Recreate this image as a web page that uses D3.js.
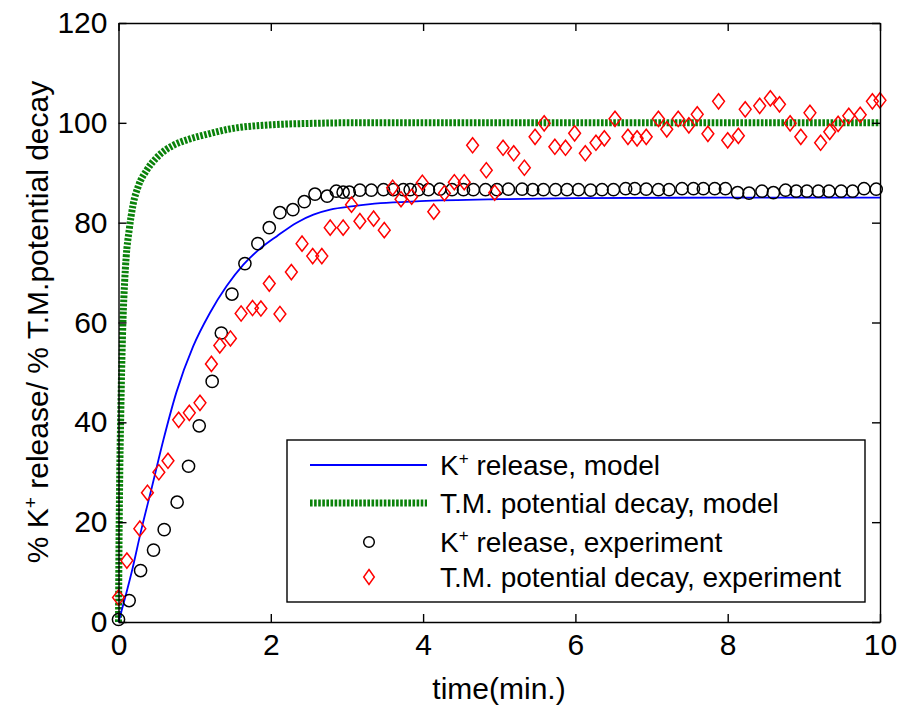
<!DOCTYPE html>
<html><head><meta charset="utf-8">
<script src="https://cdn.jsdelivr.net/npm/d3@7"></script>
<style>
html,body{margin:0;padding:0;background:#fff;}
text{font-family:"Liberation Sans",Arial,Helvetica,sans-serif;fill:#000;}
</style></head>
<body>
<svg id="chart" width="898" height="705"></svg>
<script>
// ---- data ----
const xTicks = [0, 2, 4, 6, 8, 10];
const yTicks = [0, 20, 40, 60, 80, 100, 120];

const kModelT = [0,0.17,0.30,0.44,0.59,0.76,0.98,1.20,1.42,1.64,1.86,2.08,2.34,2.56,2.78,3.09,3.44,3.96,5,6,8,10];
const kModelV = [0,9.8,18.5,27.1,36.5,46.0,55.2,61.9,67.3,71.6,74.8,77.3,80.0,81.6,82.6,83.3,83.9,84.3,84.7,84.9,85,85];

const tmModelT = [0,0.005,0.015,0.03,0.045,0.06,0.08,0.10,0.14,0.19,0.26,0.37,0.50,0.63,0.72,0.94,1.16,1.47,2.0,2.56,3.0,4,6,8,10];
const tmModelV = [0,12,28,42,53,61,68,73,78.5,83.5,87.3,90.5,93,94.7,95.5,96.8,97.7,98.8,99.6,99.9,100,100,100,100,100];

const kExpT = [0,0.14,0.29,0.46,0.60,0.77,0.92,1.06,1.23,1.35,1.49,1.66,1.83,1.98,2.12,2.29,2.44,2.58,2.74,2.86,2.95,3.03,3.17,3.32,3.48,3.61,3.74,3.83,3.94,4.07,4.22,4.38,4.53,4.66,4.82,4.97,5.12,5.30,5.44,5.58,5.74,5.89,6.04,6.20,6.35,6.50,6.66,6.78,6.93,7.09,7.23,7.40,7.55,7.68,7.83,7.97,8.13,8.28,8.45,8.60,8.76,8.90,9.04,9.19,9.33,9.49,9.64,9.79,9.95];
const kExpV = [0.5,4.3,10.3,14.4,18.5,24.0,31.2,39.3,48.2,57.9,65.7,71.8,75.8,79.0,82.0,82.6,84.2,85.7,85.3,86.3,86.1,86.1,86.5,86.5,86.6,86.6,86.6,86.6,86.6,86.6,86.7,86.6,86.6,86.6,86.6,86.6,86.7,86.7,86.6,86.6,86.6,86.6,86.6,86.5,86.6,86.6,86.8,86.8,86.7,86.6,86.6,86.8,86.8,86.8,86.8,86.8,86.0,85.9,86.3,86.0,86.5,86.3,86.3,86.3,86.3,86.3,86.3,86.8,86.7];

const tmExpT = [0,0.11,0.28,0.38,0.53,0.65,0.79,0.93,1.07,1.22,1.33,1.47,1.61,1.76,1.87,1.98,2.12,2.27,2.41,2.55,2.67,2.78,2.95,3.06,3.17,3.35,3.49,3.60,3.71,3.85,3.99,4.14,4.28,4.41,4.54,4.65,4.83,4.94,5.05,5.19,5.33,5.47,5.59,5.73,5.87,5.99,6.13,6.27,6.38,6.52,6.69,6.81,6.93,7.09,7.20,7.35,7.49,7.60,7.74,7.88,8.00,8.14,8.23,8.42,8.56,8.68,8.82,8.96,9.08,9.22,9.34,9.45,9.59,9.74,9.90,10.0];
const tmExpV = [4.9,12.3,18.7,25.9,30.0,32.3,40.5,41.9,43.9,51.7,55.4,56.8,61.8,62.9,62.8,67.8,61.7,70.1,75.8,73.3,73.3,79.0,79.0,83.6,80.3,80.8,78.5,87.0,84.7,85.2,88.0,82.2,85.9,88.1,88.1,95.5,90.5,86.0,95.0,93.9,91.0,97.2,99.9,95.2,95.0,97.9,93.9,96.0,96.9,100.8,97.2,96.9,97.2,100.8,98.7,100.8,99.5,101.7,97.8,104.3,96.5,97.4,102.7,103.4,104.9,103.7,99.9,97.2,102.0,96.0,98.2,99.8,101.4,101.6,104.3,104.5];

// ---- layout ----
const svg = d3.select("#chart");
svg.append("rect").attr("width",898).attr("height",705).attr("fill","#fff");

const x = d3.scaleLinear().domain([0,10]).range([118.5,880]);
const y = d3.scaleLinear().domain([0,120]).range([622,23]);

const tickFont = 30, labelFont = 30, legendFont = 28;

const zip = (a,b) => a.map((v,i)=>[v,b[i]]);
const line = d3.line().x(d=>x(d[0])).y(d=>y(d[1])).curve(d3.curveMonotoneX);

// model curves
svg.append("path").datum(zip(tmModelT,tmModelV))
  .attr("d",line).attr("fill","none").attr("stroke","#0a820a")
  .attr("stroke-width",7).attr("stroke-dasharray","2.6,1.5");
svg.append("path").datum(zip(kModelT,kModelV))
  .attr("d",line).attr("fill","none").attr("stroke","#0000ff")
  .attr("stroke-width",1.8);

// experiment markers
svg.append("g").selectAll("circle").data(zip(kExpT,kExpV)).join("circle")
  .attr("cx",d=>x(d[0])).attr("cy",d=>y(d[1])).attr("r",6.1)
  .attr("fill","none").attr("stroke","#000").attr("stroke-width",1.5);

const diamond = (cx,cy,w,h) => `M${cx},${cy-h}L${cx+w},${cy}L${cx},${cy+h}L${cx-w},${cy}Z`;
svg.append("g").selectAll("path").data(zip(tmExpT,tmExpV)).join("path")
  .attr("d",d=>diamond(x(d[0]),y(d[1]),5.9,7.6))
  .attr("fill","none").attr("stroke","#ff0000").attr("stroke-width",1.5);

// axes
const axG = svg.append("g");
const styleAxis = g => { g.selectAll("path,line").attr("stroke","#000").attr("stroke-width",1.4);
  g.selectAll("text").style("font-size",tickFont+"px").style("font-family",'"Liberation Sans",Arial,sans-serif').attr("fill","#000"); };
axG.append("g").attr("transform","translate(0,622)")
  .call(d3.axisBottom(x).tickValues(xTicks).tickSizeInner(-8).tickSizeOuter(0).tickPadding(12).tickFormat(d3.format("d")))
  .call(styleAxis);
axG.append("g").attr("transform","translate(0,23)")
  .call(d3.axisTop(x).tickValues(xTicks).tickSizeInner(-8).tickSizeOuter(0).tickFormat(""))
  .call(styleAxis);
axG.append("g").attr("transform","translate(118.5,0)")
  .call(d3.axisLeft(y).tickValues(yTicks).tickSizeInner(-8).tickSizeOuter(0).tickPadding(11).tickFormat(d3.format("d")))
  .call(styleAxis);
axG.append("g").attr("transform","translate(880,0)")
  .call(d3.axisRight(y).tickValues(yTicks).tickSizeInner(-8).tickSizeOuter(0).tickFormat(""))
  .call(styleAxis);
axG.selectAll(".domain").attr("fill","none");

// axis labels
svg.append("text").attr("x",499).attr("y",699).attr("text-anchor","middle")
  .style("font-size",labelFont+"px").text("time(min.)");
const yl = svg.append("text").attr("transform","translate(48,322) rotate(-90)")
  .attr("text-anchor","middle").style("font-size",labelFont+"px");
yl.append("tspan").text("% K");
yl.append("tspan").attr("dy",-11).style("font-size","19px").text("+");
yl.append("tspan").attr("dy",11).text(" release/ % T.M.potential decay");

// legend
const lg = svg.append("g");
lg.append("rect").attr("x",287).attr("y",440).attr("width",578).attr("height",162)
  .attr("fill","#fff").attr("stroke","#000").attr("stroke-width",1.4);
const rows = [465, 503, 542, 577];
lg.append("line").attr("x1",310).attr("x2",427).attr("y1",rows[0]).attr("y2",rows[0])
  .attr("stroke","#0000ff").attr("stroke-width",1.8);
lg.append("line").attr("x1",310).attr("x2",427).attr("y1",rows[1]).attr("y2",rows[1])
  .attr("stroke","#0a820a").attr("stroke-width",7).attr("stroke-dasharray","2.6,1.5");
lg.append("circle").attr("cx",369).attr("cy",rows[2]).attr("r",5.3)
  .attr("fill","none").attr("stroke","#000").attr("stroke-width",1.5);
lg.append("path").attr("d",diamond(369,rows[3],5.3,7.5))
  .attr("fill","none").attr("stroke","#ff0000").attr("stroke-width",1.5);

const legendText = (row, parts) => {
  const t = lg.append("text").attr("x",440).attr("y",row+10).style("font-size",legendFont+"px");
  parts.forEach(p => {
    if (p.sup) t.append("tspan").attr("dy",-11).style("font-size","17px").text(p.sup);
    else t.append("tspan").attr("dy",p.after?11:0).text(p.txt);
  });
};
legendText(rows[0], [{txt:"K"},{sup:"+"},{txt:" release, model",after:true}]);
legendText(rows[1], [{txt:"T.M. potential decay, model"}]);
legendText(rows[2], [{txt:"K"},{sup:"+"},{txt:" release, experiment",after:true}]);
legendText(rows[3], [{txt:"T.M. potential decay, experiment"}]);
</script>
</body></html>
